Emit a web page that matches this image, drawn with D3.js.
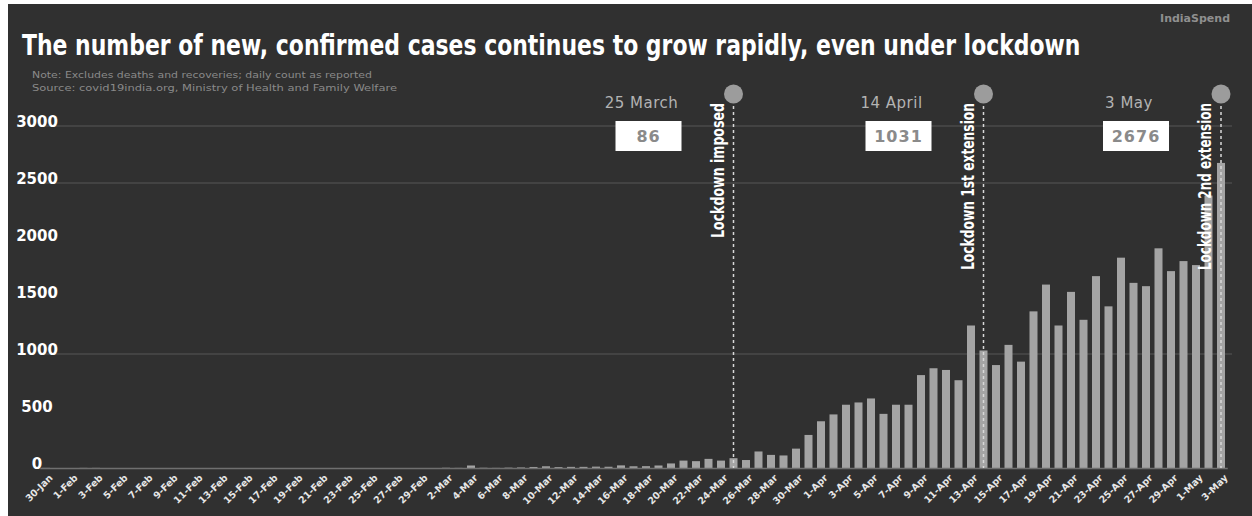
<!DOCTYPE html>
<html>
<head>
<meta charset="utf-8">
<script src="https://cdn.jsdelivr.net/npm/d3@7"></script>
<style>
  html, body { margin: 0; padding: 0; background: #ffffff; }
  svg { display: block; }
</style>
</head>
<body>
<svg id="chart" width="1252" height="516"></svg>
<script>
// Daily new confirmed cases, 30 Jan – 3 May 2020
const startDay = new Date(2020, 0, 30);
const endDay = new Date(2020, 4, 4);
const fmtDay = d3.timeFormat("%-d-%b");
const days = d3.timeDay.range(startDay, endDay).map(fmtDay);

const cases = [
  1, 0, 0, 1, 1,                                   // 30 Jan – 3 Feb
  0, 0, 0, 0, 0, 0, 0, 0, 0, 0, 0, 0, 0, 0,        // 4 Feb – 17 Feb
  0, 0, 0, 0, 0, 0, 0, 0, 0, 0, 0, 0, 0,           // 18 Feb – 1 Mar
  2, 1, 22, 2, 1, 3, 5, 9, 15, 8,                  // 2 Mar – 11 Mar
  10, 10, 12, 11, 23, 15, 16, 22, 40, 65,          // 12 Mar – 21 Mar
  60, 80, 65, 86, 70, 145, 115, 110, 170, 290,     // 22 Mar – 31 Mar
  410, 470, 555, 575, 610, 475, 555, 555, 815, 875,// 1 Apr – 10 Apr
  860, 770, 1250, 1031, 903, 1080, 933, 1374, 1609, 1250, // 11 Apr – 20 Apr
  1545, 1300, 1683, 1418, 1845, 1624, 1595, 1927, 1727, 1815, // 21 Apr – 30 Apr
  1780, 2390, 2676                                 // 1 May – 3 May
];

const yTicks = [0, 500, 1000, 1500, 2000, 2500, 3000];
const gridValues = [1000, 2500, 3000];
const xTickDays = days.filter((d, i) => i % 2 === 0);

const eventDays = ["25-Mar", "14-Apr", "3-May"];
const eventDates = ["25 March", "14 April", "3 May"];
const eventNames = ["Lockdown imposed", "Lockdown 1st extension", "Lockdown 2nd extension"];
const eventNameLengths = [135, 167, 167];

const titleText = "The number of new, confirmed cases continues to grow rapidly, even under lockdown";
const noteText = "Note: Excludes deaths and recoveries; daily count as reported";
const sourceText = "Source: covid19india.org, Ministry of Health and Family Welfare";
const brandText = "IndiaSpend";

const svg = d3.select("#chart");
const W = 1252, H = 516;

// dark panel
svg.append("rect")
  .attr("x", 8).attr("y", 4)
  .attr("width", W - 8).attr("height", H - 4)
  .attr("fill", "#303030");

const x = d3.scaleBand()
  .domain(days)
  .range([39.75, 1227.25])
  .paddingInner(0.36)
  .paddingOuter(0.18);

const y = d3.scaleLinear()
  .domain([0, 3000])
  .range([468, 126]);

const sans = "'DejaVu Sans', 'Liberation Sans', sans-serif";

// title, squeezed horizontally for a condensed look
svg.append("text")
  .attr("transform", "translate(22,55) scale(0.757,1)")
  .attr("fill", "#ffffff")
  .style("font-family", sans)
  .style("font-weight", "bold")
  .style("font-size", "29px")
  .text(titleText);

svg.append("text")
  .attr("x", 32).attr("y", 78)
  .attr("fill", "#8a8a8a")
  .style("font-family", sans)
  .style("font-size", "9px")
  .attr("textLength", 340)
  .attr("lengthAdjust", "spacingAndGlyphs")
  .text(noteText);

svg.append("text")
  .attr("x", 32).attr("y", 91)
  .attr("fill", "#8a8a8a")
  .style("font-family", sans)
  .style("font-size", "9px")
  .attr("textLength", 365)
  .attr("lengthAdjust", "spacingAndGlyphs")
  .text(sourceText);

svg.append("text")
  .attr("x", 1230).attr("y", 22)
  .attr("text-anchor", "end")
  .attr("fill", "#8f8f8f")
  .style("font-family", sans)
  .style("font-weight", "bold")
  .style("font-size", "11px")
  .text(brandText);

// gridlines
svg.append("g")
  .selectAll("line")
  .data(gridValues)
  .join("line")
  .attr("x1", 40).attr("x2", 1232)
  .attr("y1", d => y(d)).attr("y2", d => y(d))
  .attr("stroke", "#4a4a4a")
  .attr("stroke-width", 1.5);

// y axis labels
const yAxis = svg.append("g")
  .attr("transform", "translate(37,0)")
  .call(d3.axisLeft(y).tickValues(yTicks).tickSize(0).tickPadding(0).tickFormat(d3.format("d")));
yAxis.select(".domain").remove();
yAxis.selectAll("text")
  .attr("text-anchor", "middle")
  .attr("dy", "0.32em")
  .attr("y", -4)
  .attr("fill", "#ffffff")
  .style("font-family", sans)
  .style("font-weight", "bold")
  .style("font-size", "15px");

// bars
svg.append("g")
  .selectAll("rect")
  .data(cases)
  .join("rect")
  .attr("x", (d, i) => x(days[i]))
  .attr("y", d => y(d))
  .attr("width", x.bandwidth())
  .attr("height", d => y(0) - y(d))
  .attr("fill", "#a4a4a4");

// x axis
const xAxis = svg.append("g")
  .attr("transform", `translate(0,${y(0)})`)
  .call(d3.axisBottom(x).tickValues(xTickDays).tickSize(0).tickPadding(0));
xAxis.select(".domain")
  .attr("stroke", "#6f6f6f")
  .attr("stroke-width", 1.5);
xAxis.selectAll("text")
  .attr("text-anchor", "end")
  .attr("transform", "translate(5,8) rotate(-45)")
  .attr("dy", "0.35em")
  .attr("fill", "#e6e6e6")
  .style("font-family", sans)
  .style("font-weight", "bold")
  .style("font-size", "9.5px");

// lockdown markers
const ev = svg.append("g")
  .selectAll("g")
  .data(eventDays)
  .join("g")
  .attr("transform", d => `translate(${x(d) + x.bandwidth() / 2},0)`);

ev.append("line")
  .attr("x1", 0).attr("x2", 0)
  .attr("y1", 100).attr("y2", y(0))
  .attr("stroke", "#d8d8d8")
  .attr("stroke-width", 1.5)
  .attr("stroke-dasharray", "3,3");

ev.append("circle")
  .attr("cx", 0).attr("cy", 94)
  .attr("r", 9.5)
  .attr("fill", "#9c9c9c");

ev.append("text")
  .attr("transform", "translate(-10,103) rotate(-90)")
  .attr("text-anchor", "end")
  .attr("fill", "#ffffff")
  .style("font-family", sans)
  .style("font-weight", "bold")
  .style("font-size", "17px")
  .attr("textLength", (d, i) => eventNameLengths[i])
  .attr("lengthAdjust", "spacingAndGlyphs")
  .text((d, i) => eventNames[i]);

ev.append("text")
  .attr("x", -92).attr("y", 108)
  .attr("text-anchor", "middle")
  .attr("fill", "#b3b3b3")
  .style("font-family", sans)
  .style("font-size", "15px")
  .attr("letter-spacing", "0.5px")
  .text((d, i) => eventDates[i]);

ev.append("rect")
  .attr("x", -118).attr("y", 121)
  .attr("width", 66).attr("height", 30)
  .attr("fill", "#ffffff");

ev.append("text")
  .attr("x", -85).attr("y", 142)
  .attr("text-anchor", "middle")
  .attr("fill", "#8a8a8a")
  .style("font-family", sans)
  .style("font-weight", "bold")
  .style("font-size", "16px")
  .attr("letter-spacing", "1px")
  .text(d => cases[days.indexOf(d)]);
</script>
</body>
</html>
